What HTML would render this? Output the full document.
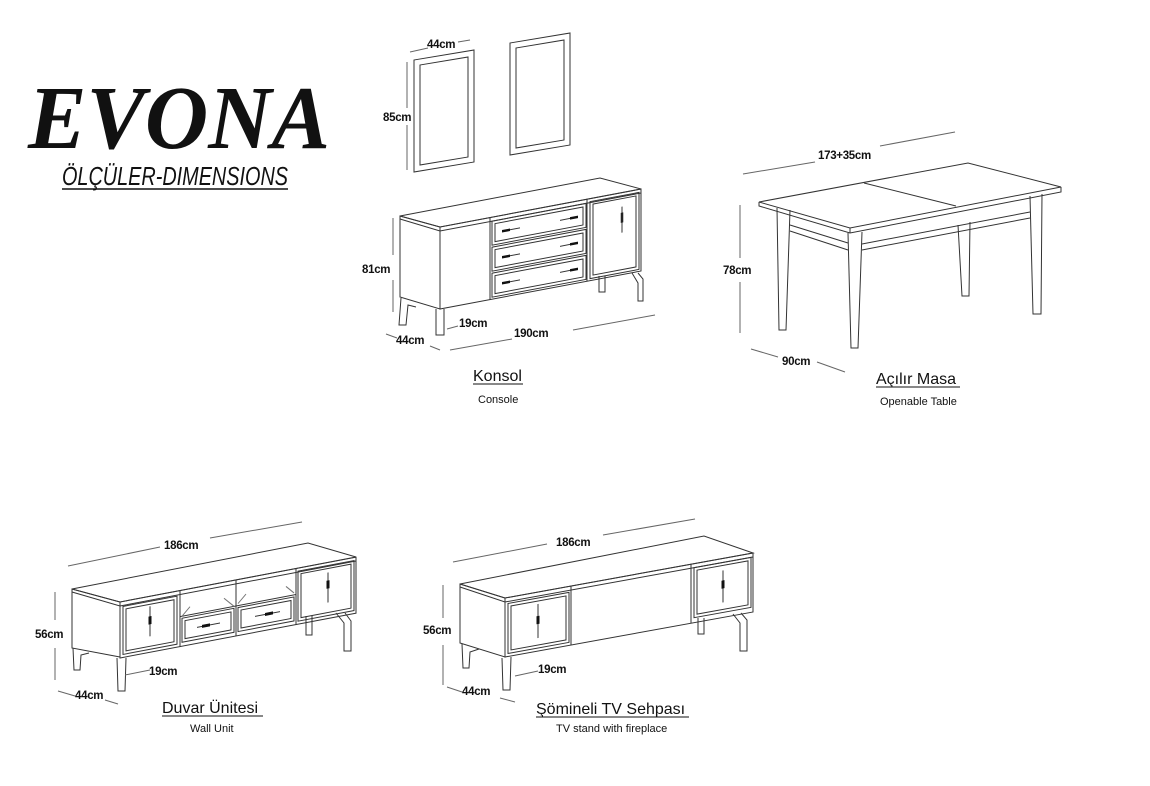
<!DOCTYPE html>
<html><head><meta charset="utf-8"><style>
html,body{margin:0;padding:0;background:#fff;}
svg{display:block;}
text{font-family:"Liberation Sans",sans-serif;fill:#111;}
</style></head><body>
<svg width="1150" height="786" viewBox="0 0 1150 786" xmlns="http://www.w3.org/2000/svg">
<rect width="1150" height="786" fill="#fff"/>
<!-- Title -->
<text x="28" y="148" font-family="Liberation Serif,serif" font-weight="bold" font-style="italic" font-size="90" textLength="302" lengthAdjust="spacingAndGlyphs" style="font-family:'Liberation Serif',serif">EVONA</text>
<text x="62" y="185" font-style="italic" font-size="26" textLength="226" lengthAdjust="spacingAndGlyphs">ÖLÇÜLER-DIMENSIONS</text>
<line x1="62" y1="189" x2="288" y2="189" stroke="#111" stroke-width="1.5"/>

<g fill="none" stroke="#333" stroke-width="1">
<!-- Mirrors -->
<g transform="matrix(1,-0.167,0,1,414,60)"><rect x="0" y="0" width="60" height="112"/><rect x="6" y="6" width="48" height="100"/></g>
<g transform="matrix(1,-0.167,0,1,510,43)"><rect x="0" y="0" width="60" height="112"/><rect x="6" y="6" width="48" height="100"/></g>
<line x1="410" y1="52" x2="428" y2="48" stroke="#666"/><line x1="458" y1="42" x2="470" y2="40" stroke="#666"/>
<line x1="407" y1="62" x2="407" y2="108" stroke="#666"/><line x1="407" y1="125" x2="407" y2="170" stroke="#666"/>

<!-- Console -->
<polygon points="400,216 600,178 641,189 440,227" fill="#fff"/>
<polyline points="400,219 440,231 641,193"/>
<polygon points="400,216 440,227 440,309 400,297"/>
<g transform="matrix(1,-0.189,0,1,440,227)">
<rect x="0" y="0" width="201" height="82"/>
<line x1="50" y1="0" x2="50" y2="82"/>
<rect x="52" y="4" width="94" height="24"/><rect x="55" y="7" width="88" height="18"/>
<rect x="52" y="30" width="94" height="24"/><rect x="55" y="33" width="88" height="18"/>
<rect x="52" y="56" width="94" height="24"/><rect x="55" y="59" width="88" height="18"/>
<line x1="147" y1="0" x2="147" y2="82"/>
<rect x="150" y="3" width="49" height="77"/><rect x="153" y="6" width="43" height="71"/>
<g stroke="#111" stroke-width="2.5"><line x1="62" y1="16" x2="70" y2="16"/><line x1="62" y1="42" x2="70" y2="42"/><line x1="62" y1="68" x2="70" y2="68"/>
<line x1="130" y1="16" x2="138" y2="16"/><line x1="130" y1="42" x2="138" y2="42"/><line x1="130" y1="68" x2="138" y2="68"/><line x1="182" y1="20" x2="182" y2="30"/></g>
<line x1="70" y1="16" x2="80" y2="16"/><line x1="120" y1="16" x2="130" y2="16"/><line x1="70" y1="42" x2="80" y2="42"/><line x1="120" y1="42" x2="130" y2="42"/><line x1="70" y1="68" x2="80" y2="68"/><line x1="120" y1="68" x2="130" y2="68"/><line x1="182" y1="14" x2="182" y2="40"/>
</g>
<path d="M436,309 v26 h8 v-26 M401,298 l-2,27 h7 l2,-20 l8,2"/>
<path d="M599,276 v16 h6 v-16 M632,273 l6,10 v18 h5 v-22 l-5,-6"/>
<g stroke="#666"><line x1="393" y1="218" x2="393" y2="255"/><line x1="393" y1="280" x2="393" y2="312"/>
<line x1="447" y1="329" x2="458" y2="326"/><line x1="386" y1="334" x2="397" y2="338"/><line x1="430" y1="346" x2="440" y2="350"/>
<line x1="450" y1="350" x2="512" y2="339"/><line x1="573" y1="330" x2="655" y2="315"/></g>

<!-- Table -->
<polygon points="759,202 968,163 1061,187 850,228" fill="#fff"/>
<polyline points="759,202 759,206 850,233 1061,192 1061,187"/><line x1="850" y1="228" x2="850" y2="233"/>
<line x1="864" y1="183" x2="956" y2="206"/>
<path d="M777,208 L779,330 H786 L790,210"/>
<path d="M848,233 L851,348 H858 L862,232"/>
<path d="M958,225 L962,296 H969 L970,222"/>
<path d="M1030,196 L1033,314 H1041 L1042,194"/>
<path d="M790,225 L848,243 M790,231 L848,250 M862,244 L1030,212 M862,250 L1030,218"/>
<g stroke="#666"><line x1="743" y1="174" x2="815" y2="162"/><line x1="880" y1="146" x2="955" y2="132"/>
<line x1="740" y1="205" x2="740" y2="258"/><line x1="740" y1="282" x2="740" y2="333"/>
<line x1="751" y1="349" x2="778" y2="357"/><line x1="817" y1="362" x2="845" y2="372"/></g>

<!-- Wall unit -->
<polygon points="72,589 308,543 356,557 120,602" fill="#fff"/>
<polyline points="72,592 120,606 356,561"/>
<polygon points="72,589 120,602 120,657 72,648"/>
<g transform="matrix(1,-0.19,0,1,120,602)">
<rect x="0" y="0" width="236" height="56"/>
<rect x="3" y="5" width="54" height="48"/><rect x="6" y="8" width="48" height="42"/>
<line x1="60" y1="0" x2="60" y2="56"/><line x1="116" y1="0" x2="116" y2="56"/><line x1="176" y1="0" x2="176" y2="56"/>
<line x1="60" y1="26" x2="176" y2="26"/>
<path d="M62,26 L70,18 M114,26 L104,16 M118,24 L126,16 M174,24 L166,16" stroke="#777"/>
<rect x="62" y="28" width="52" height="24"/><rect x="65" y="31" width="46" height="18"/>
<rect x="118" y="28" width="56" height="24"/><rect x="121" y="31" width="50" height="18"/>
<rect x="178" y="3" width="56" height="50"/><rect x="181" y="6" width="50" height="44"/>
<line x1="30" y1="10" x2="30" y2="40"/><line x1="208" y1="10" x2="208" y2="40"/><line x1="77" y1="40" x2="100" y2="40"/><line x1="135" y1="40" x2="160" y2="40"/>
<g stroke="#111" stroke-width="3"><line x1="30" y1="20" x2="30" y2="28"/><line x1="208" y1="18" x2="208" y2="26"/><line x1="82" y1="40" x2="90" y2="40"/><line x1="145" y1="40" x2="153" y2="40"/></g>
</g>
<path d="M117,658 l1,33 h7 l1,-33 M73,648 l1,22 h6 l1,-15 l8,-2"/>
<path d="M306,616 v19 h6 v-19 M336,613 l8,10 v28 h7 v-30 l-6,-8"/>
<g stroke="#666"><line x1="68" y1="566" x2="160" y2="547"/><line x1="210" y1="538" x2="302" y2="522"/>
<line x1="55" y1="592" x2="55" y2="620"/><line x1="55" y1="648" x2="55" y2="680"/>
<line x1="125" y1="675" x2="150" y2="670"/><line x1="58" y1="691" x2="75" y2="696"/><line x1="105" y1="700" x2="118" y2="704"/></g>

<!-- TV stand -->
<polygon points="460,584 704,536 753,553 505,598" fill="#fff"/>
<polyline points="460,587 505,602 753,557"/>
<polygon points="460,584 505,598 505,657 460,643"/>
<g transform="matrix(1,-0.1815,0,1,505,598)">
<rect x="0" y="0" width="248" height="59"/>
<rect x="3" y="6" width="61" height="50"/><rect x="6" y="9" width="55" height="44"/>
<line x1="66" y1="0" x2="66" y2="59"/><line x1="186" y1="0" x2="186" y2="59"/>
<rect x="189" y="4" width="57" height="50"/><rect x="192" y="7" width="51" height="44"/>
<line x1="33" y1="12" x2="33" y2="46"/><line x1="218" y1="12" x2="218" y2="44"/>
<g stroke="#111" stroke-width="3"><line x1="33" y1="24" x2="33" y2="32"/><line x1="218" y1="22" x2="218" y2="30"/></g>
</g>
<path d="M502,658 l1,32 h7 l1,-33 M462,644 l1,24 h6 l1,-16 l9,-3"/>
<path d="M698,618 v16 h6 v-16 M733,614 l7,9 v28 h7 v-31 l-6,-7"/>
<g stroke="#666"><line x1="453" y1="562" x2="547" y2="544"/><line x1="603" y1="535" x2="695" y2="519"/>
<line x1="443" y1="585" x2="443" y2="618"/><line x1="443" y1="645" x2="443" y2="685"/>
<line x1="515" y1="676" x2="538" y2="671"/><line x1="447" y1="687" x2="462" y2="692"/><line x1="500" y1="698" x2="515" y2="702"/></g>
</g>

<!-- Labels -->
<g font-size="11.5" font-weight="bold" letter-spacing="-0.3">
<text x="427" y="48">44cm</text>
<text x="383" y="121">85cm</text>
<text x="362" y="273">81cm</text>
<text x="459" y="327">19cm</text>
<text x="396" y="344">44cm</text>
<text x="514" y="337">190cm</text>
<text x="818" y="159">173+35cm</text>
<text x="723" y="274">78cm</text>
<text x="782" y="365">90cm</text>
<text x="164" y="549">186cm</text>
<text x="35" y="638">56cm</text>
<text x="149" y="675">19cm</text>
<text x="75" y="699">44cm</text>
<text x="556" y="546">186cm</text>
<text x="423" y="634">56cm</text>
<text x="538" y="673">19cm</text>
<text x="462" y="695">44cm</text>
</g>
<g font-size="16">
<text x="473" y="381">Konsol</text><line x1="473" y1="384" x2="523" y2="384" stroke="#111"/>
<text x="876" y="384">Açılır Masa</text><line x1="876" y1="387" x2="960" y2="387" stroke="#111"/>
<text x="162" y="713">Duvar Ünitesi</text><line x1="162" y1="716" x2="263" y2="716" stroke="#111"/>
<text x="536" y="714">Şömineli TV Sehpası</text><line x1="536" y1="717" x2="689" y2="717" stroke="#111"/>
</g>
<g font-size="11">
<text x="478" y="403">Console</text>
<text x="880" y="405">Openable Table</text>
<text x="190" y="732">Wall Unit</text>
<text x="556" y="732">TV stand with fireplace</text>
</g>
</svg>
</body></html>
